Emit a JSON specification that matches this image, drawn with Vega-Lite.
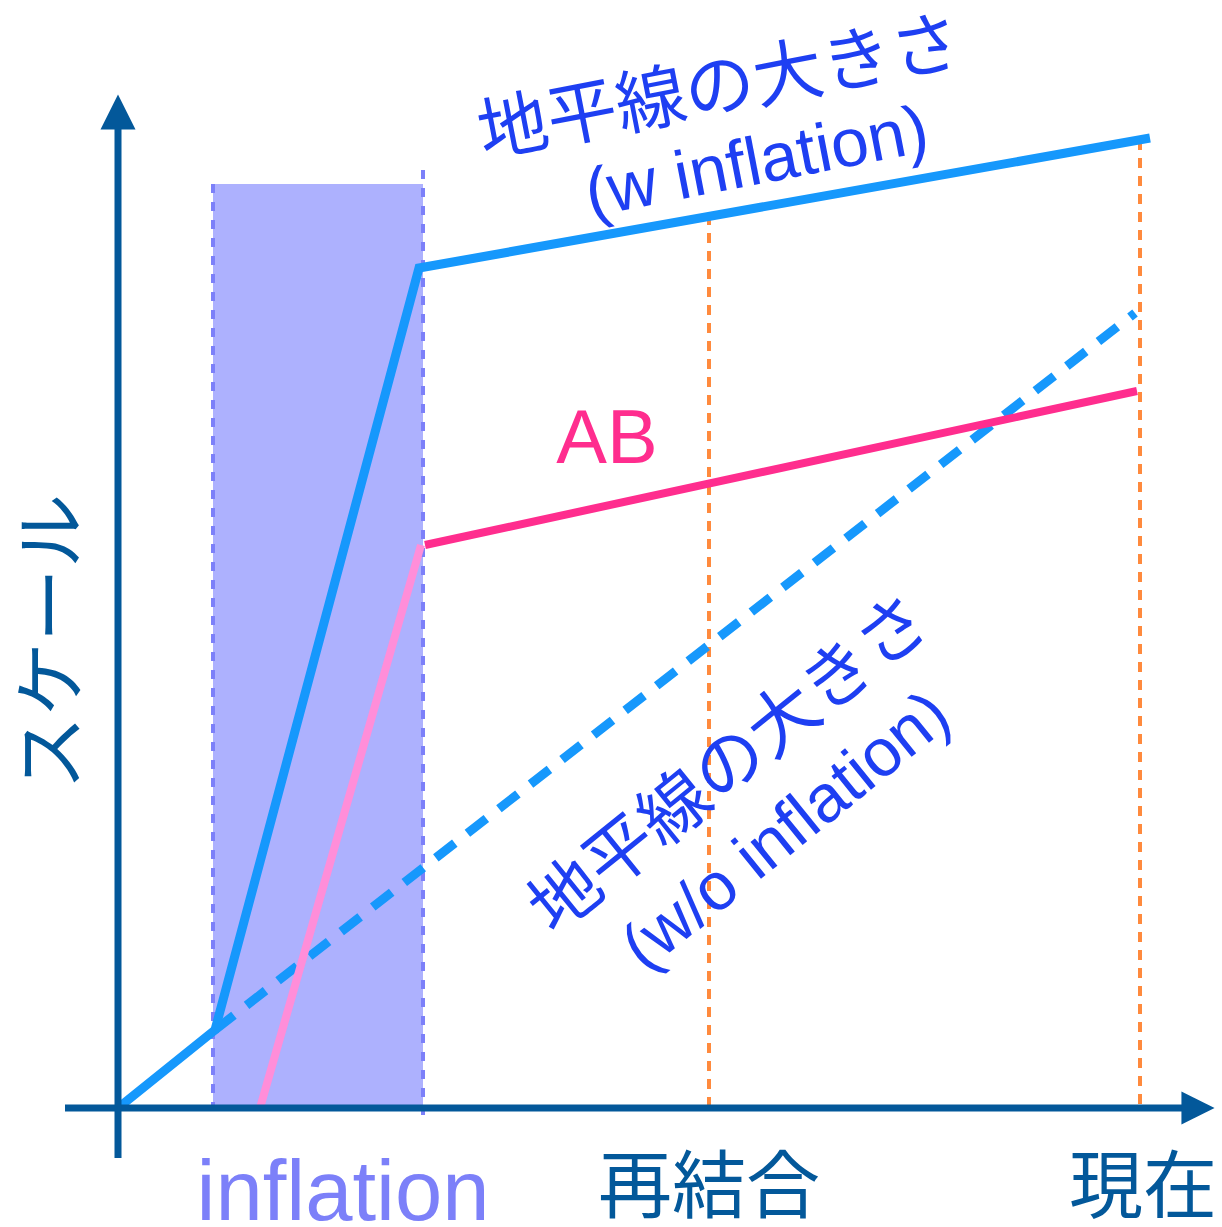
{
  "$schema": "https://vega.github.io/schema/vega-lite/v6.json",
  "width": 1222,
  "height": 1227,
  "autosize": "none",
  "padding": 0,
  "background": "white",
  "config": {"view": {"stroke": null}},
  "datasets": {
    "band": [{"x0": 213, "x1": 423, "y0": 184, "y1": 1105}],
    "infl": [
      {"id": "a", "x": 213, "y": 184}, {"id": "a", "x": 213, "y": 1105},
      {"id": "b", "x": 423, "y": 170}, {"id": "b", "x": 423, "y": 1115}
    ],
    "orange": [
      {"id": "a", "x": 709, "y": 215}, {"id": "a", "x": 709, "y": 1105},
      {"id": "b", "x": 1140, "y": 140}, {"id": "b", "x": 1140, "y": 1105}
    ],
    "winf": [
      {"o": 1, "x": 118, "y": 1108}, {"o": 2, "x": 215, "y": 1030},
      {"o": 3, "x": 419, "y": 268}, {"o": 4, "x": 1150, "y": 138}
    ],
    "woinf": [{"o": 1, "x": 215, "y": 1030}, {"o": 2, "x": 1135, "y": 313}],
    "pinklight": [{"o": 1, "x": 260, "y": 1108}, {"o": 2, "x": 421, "y": 545}],
    "pink": [{"o": 1, "x": 425, "y": 545}, {"o": 2, "x": 1137, "y": 391}],
    "xaxis": [{"o": 1, "x": 65, "y": 1108}, {"o": 2, "x": 1186, "y": 1108}],
    "yaxis": [{"o": 1, "x": 118, "y": 1158}, {"o": 2, "x": 118, "y": 128}]
  },
  "encoding": {
    "x": {"field": "x", "type": "quantitative", "scale": {"domain": [0, 1222], "nice": false, "zero": false}, "axis": null},
    "y": {"field": "y", "type": "quantitative", "scale": {"domain": [0, 1227], "nice": false, "zero": false, "reverse": true}, "axis": null}
  },
  "layer": [
    {
      "data": {"name": "band"},
      "mark": {"type": "rect", "color": "#adb1fe", "opacity": 1},
      "encoding": {
        "x": {"field": "x0", "type": "quantitative", "scale": {"domain": [0, 1222], "nice": false, "zero": false}, "axis": null},
        "x2": {"field": "x1"},
        "y": {"field": "y0", "type": "quantitative", "scale": {"domain": [0, 1227], "nice": false, "zero": false, "reverse": true}, "axis": null},
        "y2": {"field": "y1"}
      }
    },
    {
      "data": {"name": "infl"},
      "mark": {"type": "line", "color": "#7c80f9", "strokeWidth": 4, "strokeDash": [9, 9], "strokeCap": "butt"},
      "encoding": {"detail": {"field": "id"}}
    },
    {
      "data": {"name": "orange"},
      "mark": {"type": "line", "color": "#ff8a3d", "strokeWidth": 4, "strokeDash": [10, 8], "strokeCap": "butt"},
      "encoding": {"detail": {"field": "id"}}
    },
    {
      "data": {"name": "woinf"},
      "mark": {"type": "line", "color": "#1698fc", "strokeWidth": 9, "strokeDash": [24, 16], "strokeCap": "butt"},
      "encoding": {"order": {"field": "o"}}
    },
    {
      "data": {"name": "pinklight"},
      "mark": {"type": "line", "color": "#ff8ed9", "strokeWidth": 8, "strokeCap": "butt"},
      "encoding": {"order": {"field": "o"}}
    },
    {
      "data": {"name": "pink"},
      "mark": {"type": "line", "color": "#ff2d8e", "strokeWidth": 8, "strokeCap": "butt"},
      "encoding": {"order": {"field": "o"}}
    },
    {
      "data": {"name": "winf"},
      "mark": {"type": "line", "color": "#1698fc", "strokeWidth": 9, "strokeCap": "butt", "strokeJoin": "miter"},
      "encoding": {"order": {"field": "o"}}
    },
    {
      "data": {"name": "xaxis"},
      "mark": {"type": "line", "color": "#03589a", "strokeWidth": 7, "strokeCap": "butt"},
      "encoding": {"order": {"field": "o"}}
    },
    {
      "data": {"name": "yaxis"},
      "mark": {"type": "line", "color": "#03589a", "strokeWidth": 7, "strokeCap": "butt"},
      "encoding": {"order": {"field": "o"}}
    },
    {
      "data": {"values": [{"x": 118, "y": 112}]},
      "mark": {"type": "point", "shape": "M-1,1L0,-1L1,1Z", "size": 1225, "filled": true, "color": "#03589a", "opacity": 1}
    },
    {
      "data": {"values": [{"x": 1198, "y": 1108}]},
      "mark": {"type": "point", "shape": "M-1,-1L1,0L-1,1Z", "size": 1100, "filled": true, "color": "#03589a", "opacity": 1}
    },
    {
      "data": {"values": [{"x": 720, "y": 90, "t": "地平線の大きさ"}]},
      "mark": {"type": "text", "font": "Noto Sans CJK JP", "fontSize": 70, "color": "#1e3ff2", "angle": -11, "align": "center", "baseline": "middle"},
      "encoding": {"text": {"field": "t"}}
    },
    {
      "data": {"values": [{"x": 757, "y": 164, "t": "(w inflation)"}]},
      "mark": {"type": "text", "font": "Liberation Sans", "fontSize": 68, "color": "#1e3ff2", "angle": -11, "align": "center", "baseline": "middle"},
      "encoding": {"text": {"field": "t"}}
    },
    {
      "data": {"values": [{"x": 731, "y": 766, "t": "地平線の大きさ"}]},
      "mark": {"type": "text", "font": "Noto Sans CJK JP", "fontSize": 70, "color": "#1e3ff2", "angle": -39, "align": "center", "baseline": "middle"},
      "encoding": {"text": {"field": "t"}}
    },
    {
      "data": {"values": [{"x": 787, "y": 832, "t": "(w/o inflation)"}]},
      "mark": {"type": "text", "font": "Liberation Sans", "fontSize": 67, "color": "#1e3ff2", "angle": -39, "align": "center", "baseline": "middle"},
      "encoding": {"text": {"field": "t"}}
    },
    {
      "data": {"values": [{"x": 607, "y": 440, "t": "AB"}]},
      "mark": {"type": "text", "font": "Liberation Sans", "fontSize": 76, "color": "#ff2d8e", "align": "center", "baseline": "middle"},
      "encoding": {"text": {"field": "t"}}
    },
    {
      "data": {"values": [{"x": 55, "y": 642, "t": "スケール"}]},
      "mark": {"type": "text", "font": "Noto Sans CJK JP", "fontSize": 74, "color": "#03589a", "angle": -90, "align": "center", "baseline": "middle"},
      "encoding": {"text": {"field": "t"}}
    },
    {
      "data": {"values": [{"x": 343, "y": 1194, "t": "inflation"}]},
      "mark": {"type": "text", "font": "Liberation Sans", "fontSize": 85, "color": "#7c80f9", "align": "center", "baseline": "middle"},
      "encoding": {"text": {"field": "t"}}
    },
    {
      "data": {"values": [{"x": 709, "y": 1190, "t": "再結合"}, {"x": 1143, "y": 1190, "t": "現在"}]},
      "mark": {"type": "text", "font": "Noto Sans CJK JP", "fontSize": 74, "color": "#03589a", "align": "center", "baseline": "middle"},
      "encoding": {"text": {"field": "t"}}
    }
  ]
}
